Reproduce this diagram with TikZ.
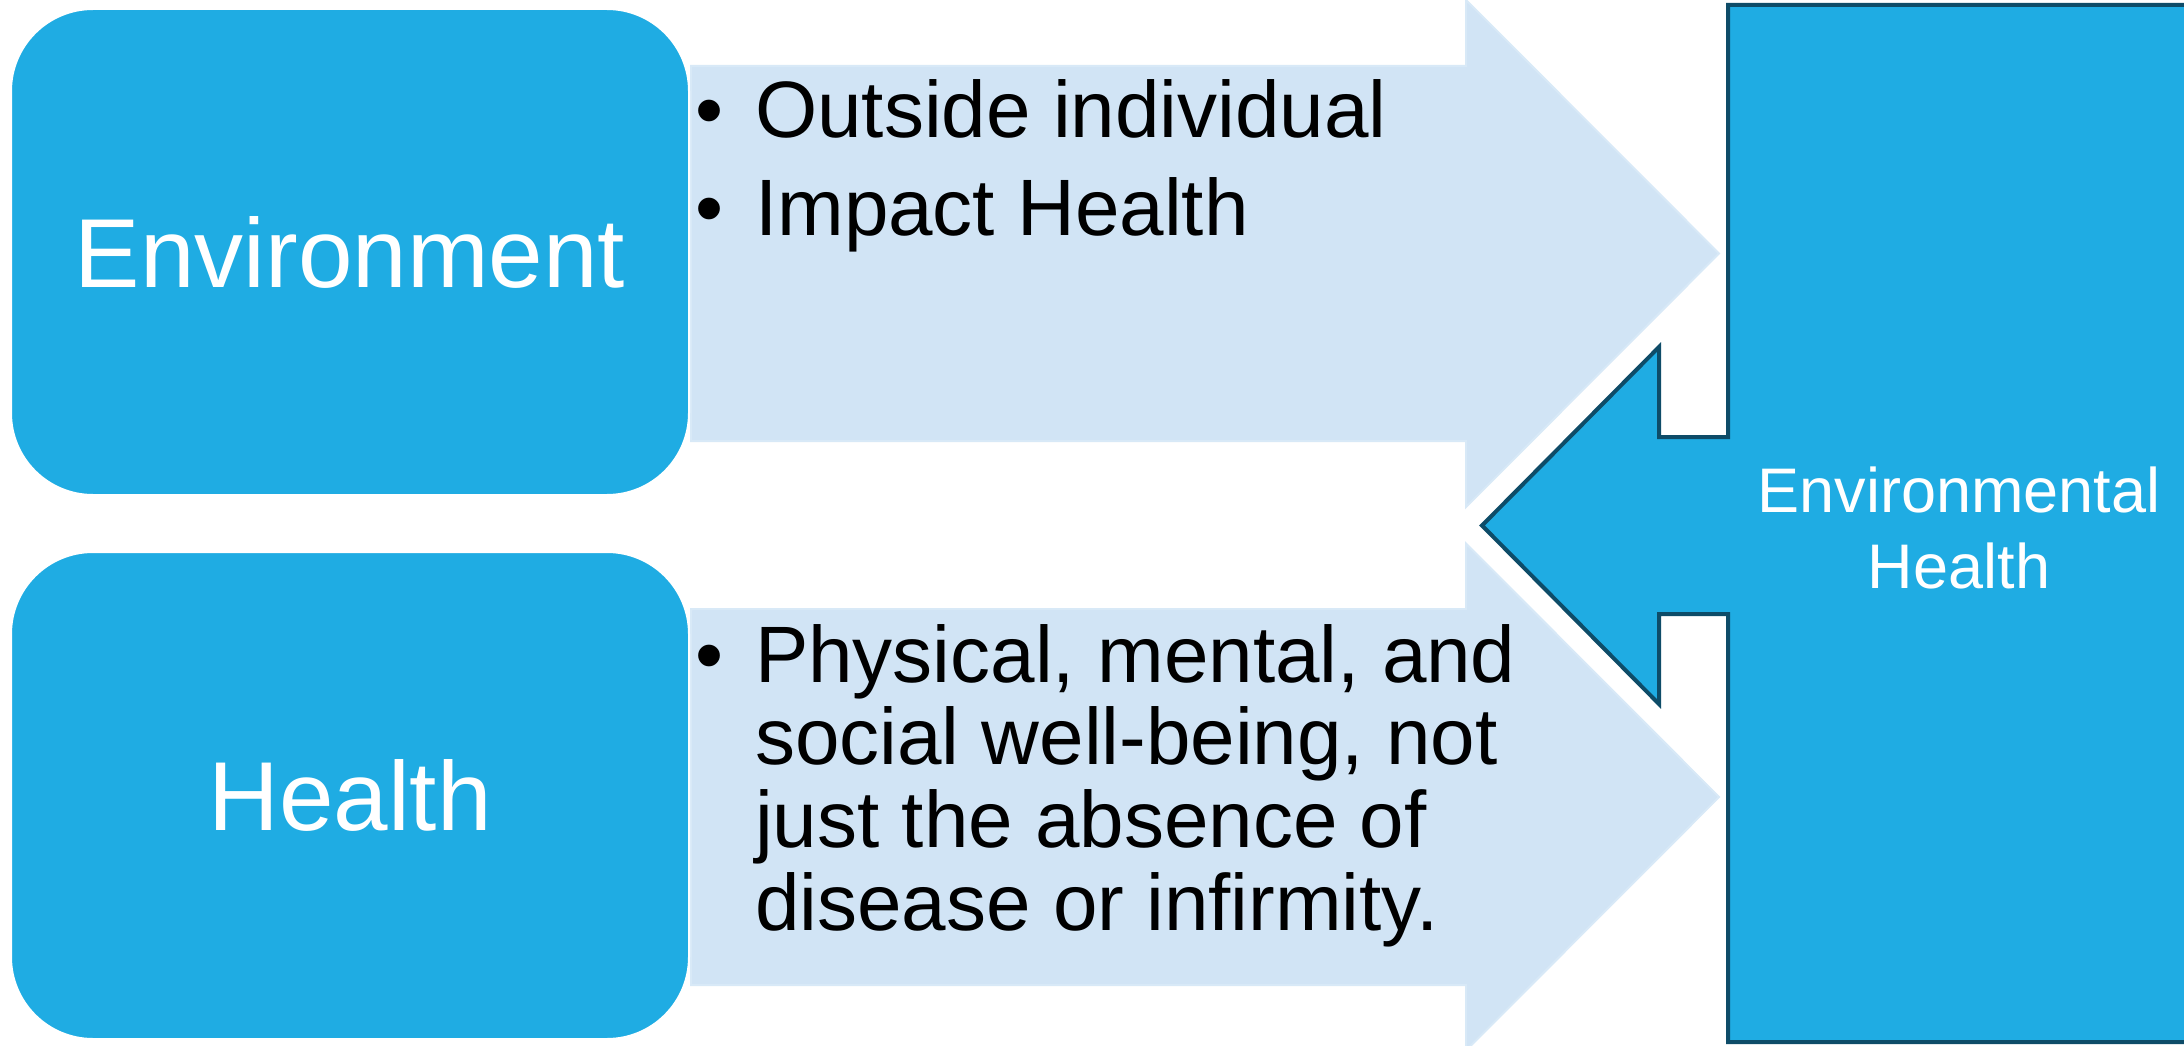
\documentclass[tikz,border=0pt]{standalone}
\usepackage{fontspec}
\setmainfont{Liberation Sans}

\definecolor{boxblue}{RGB}{31,172,227}
\definecolor{arrowfill}{RGB}{209,228,245}
\definecolor{arrowedge}{RGB}{216,233,247}
\definecolor{calloutedge}{RGB}{14,76,104}

% bullet followed by the hanging indent of the list text
\newcommand\bulletmark{\makebox[60pt][l]{\textbullet}}
\newcommand\hangmark{\hspace*{60pt}}

\begin{document}
\begin{tikzpicture}[x=1pt,y=-1pt,
  topicbox/.style={draw=white, line width=2pt, fill=boxblue, rounded corners=82pt,
    minimum width=678pt, minimum height=486pt, inner sep=0pt, text=white,
    font=\fontsize{98}{100}\selectfont},
  flowarrow/.style={fill=arrowfill, draw=arrowedge, line width=2pt},
  callout/.style={fill=boxblue, draw=calloutedge, line width=4pt, line join=miter},
  bullettext/.style={anchor=base west, inner sep=0pt, text=black,
    font=\fontsize{80}{82.7}\selectfont},
  calloutlabel/.style={anchor=base, inner sep=0pt, text=white,
    font=\fontsize{63}{76}\selectfont}
]
\useasboundingbox (0,0) rectangle (2184,1046);
\fill[white] (0,0) rectangle (2184,1046);

% light arrows carrying the definitions
\draw[flowarrow] (691,66) -- (1466,66) -- (1466,0) -- (1719,253.5)
  -- (1466,507) -- (1466,441) -- (691,441) -- cycle;
\draw[flowarrow] (691,609) -- (1466,609) -- (1466,543.5) -- (1719,797)
  -- (1466,1050.5) -- (1466,985) -- (691,985) -- cycle;

% the two topic boxes
\node[topicbox] (env) at (350,252) {Environment};
\node[topicbox, minimum height=487pt] (health) at (350,795.5) {Health};

% right-hand box with its left-pointing arrow
\begin{scope}
\clip (0,0) rectangle (2184,1046);
\draw[callout] (1728,5) -- (2200,5) -- (2200,1042) -- (1728,1042)
  -- (1728,614) -- (1659,614) -- (1659,704) -- (1482,525.5)
  -- (1659,347) -- (1659,437) -- (1728,437) -- cycle;
\end{scope}

% texts
\node[bullettext] (envpoints) at (695,138) {%
  \begin{tabular}[t]{@{}l@{}}
  \bulletmark Outside individual\\[14.8pt]
  \bulletmark Impact Health
  \end{tabular}};
\node[bullettext] (healthpoints) at (695,682) {%
  \begin{tabular}[t]{@{}l@{}}
  \bulletmark Physical, mental, and\\
  \hangmark social well-being, not\\
  \hangmark just the absence of\\
  \hangmark disease or infirmity.
  \end{tabular}};
\node[calloutlabel] (envhealth) at (1959,512) {%
  \begin{tabular}[t]{@{}c@{}}
  Environmental\\
  Health
  \end{tabular}};
\end{tikzpicture}
\end{document}
